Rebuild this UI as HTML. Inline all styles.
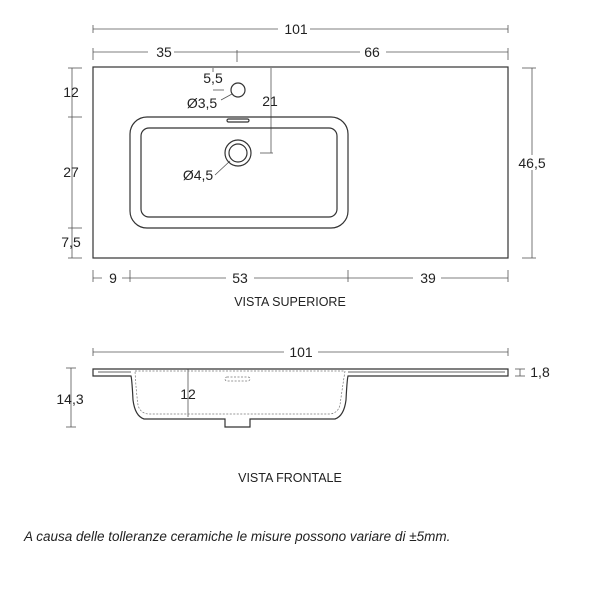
<!DOCTYPE html>
<html><head><style>
body{margin:0;background:#fff;width:600px;height:600px;overflow:hidden}
text{font-family:"Liberation Sans",sans-serif;fill:#222}
</style></head><body>
<svg width="600" height="600" viewBox="0 0 600 600" xmlns="http://www.w3.org/2000/svg">
<g stroke="#555" stroke-width="0.8" fill="none">
<line x1="93" y1="29" x2="508" y2="29"/><line x1="93" y1="25" x2="93" y2="33"/><line x1="508" y1="25" x2="508" y2="33"/>
<line x1="93" y1="52" x2="508" y2="52"/><line x1="93" y1="48" x2="93" y2="60"/><line x1="508" y1="48" x2="508" y2="60"/><line x1="237" y1="50" x2="237" y2="62"/>
<line x1="72" y1="68" x2="72" y2="258"/>
<line x1="68" y1="68" x2="82" y2="68"/><line x1="68" y1="117" x2="82" y2="117"/><line x1="68" y1="228" x2="82" y2="228"/><line x1="68" y1="258" x2="82" y2="258"/>
<line x1="532" y1="68" x2="532" y2="258"/><line x1="522" y1="68" x2="536" y2="68"/><line x1="522" y1="258" x2="536" y2="258"/>
<line x1="93" y1="278" x2="508" y2="278"/><line x1="93" y1="270" x2="93" y2="282"/><line x1="130" y1="270" x2="130" y2="282"/><line x1="348" y1="270" x2="348" y2="282"/><line x1="508" y1="270" x2="508" y2="282"/>
<line x1="271" y1="68" x2="271" y2="153"/><line x1="260" y1="153" x2="273" y2="153"/>
<line x1="213" y1="90" x2="224" y2="90"/><line x1="213" y1="68" x2="213" y2="72"/>
<line x1="221" y1="100" x2="232" y2="94"/><line x1="215" y1="175" x2="230" y2="161"/>
<line x1="93" y1="352" x2="508" y2="352"/><line x1="93" y1="348" x2="93" y2="356"/><line x1="508" y1="348" x2="508" y2="356"/>
<line x1="71" y1="368" x2="71" y2="427"/><line x1="66" y1="368" x2="76" y2="368"/><line x1="66" y1="427" x2="76" y2="427"/>
<line x1="188" y1="369" x2="188" y2="417"/>
<line x1="515" y1="369" x2="525" y2="369"/><line x1="515" y1="376" x2="525" y2="376"/><line x1="520" y1="369" x2="520" y2="376"/>
</g>
<g stroke="#333" stroke-width="1.2" fill="none">
<rect x="93" y="67" width="415" height="191"/>
<rect x="130" y="117" width="218" height="111" rx="17"/>
<rect x="141" y="128" width="196" height="89" rx="8"/>
<circle cx="238" cy="90" r="7"/>
<circle cx="238" cy="153" r="13"/><circle cx="238" cy="153" r="9"/>
<rect x="227" y="119" width="22" height="3" rx="1.5"/>
<path d="M93 369 H508 V376 H348 Q347 380 346 400 Q344 416 335 419 H250 V427 H225 V419 H144 Q135 416 133 400 Q132 380 131 376 H93 Z"/>
<path d="M98 372 H131 M348 372 H505" stroke-width="0.8"/>
</g>
<g stroke="#777" stroke-width="0.7" fill="none" stroke-dasharray="2 1.5">
<path d="M135 371 H345 Q342 390 340 405 Q338 413 330 414 H148 Q140 413 138 405 Q136 390 135 371"/>
<rect x="225" y="377" width="25" height="4" rx="2"/>
</g>
<g font-size="14" text-anchor="middle">
<rect x="278" y="21" width="32" height="15" fill="#fff"/><text x="296" y="34">101</text>
<rect x="148" y="44" width="26" height="15" fill="#fff"/><text x="164" y="57">35</text>
<rect x="360" y="44" width="26" height="15" fill="#fff"/><text x="372" y="57">66</text>
<text x="71" y="97">12</text><text x="71" y="177">27</text><text x="71" y="247">7,5</text>
<rect x="520" y="155" width="26" height="15" fill="#fff"/><text x="532" y="168">46,5</text>
<rect x="102" y="271" width="20" height="15" fill="#fff"/><text x="113" y="283">9</text>
<rect x="226" y="271" width="28" height="15" fill="#fff"/><text x="240" y="283">53</text>
<rect x="413" y="271" width="28" height="15" fill="#fff"/><text x="428" y="283">39</text>
<text x="213" y="83">5,5</text><text x="202" y="108">Ø3,5</text><text x="270" y="106">21</text>
<text x="198" y="180">Ø4,5</text>
<text x="290" y="306" font-size="12.5">VISTA SUPERIORE</text>
<rect x="284" y="345" width="34" height="15" fill="#fff"/><text x="301" y="357">101</text>
<text x="70" y="404">14,3</text><text x="188" y="399">12</text><text x="540" y="377">1,8</text>
<text x="290" y="482" font-size="12.5">VISTA FRONTALE</text>
<text x="24" y="541" font-size="13.5" text-anchor="start" font-style="italic">A causa delle tolleranze ceramiche le misure possono variare di ±5mm.</text>
</g>
</svg>
</body></html>
